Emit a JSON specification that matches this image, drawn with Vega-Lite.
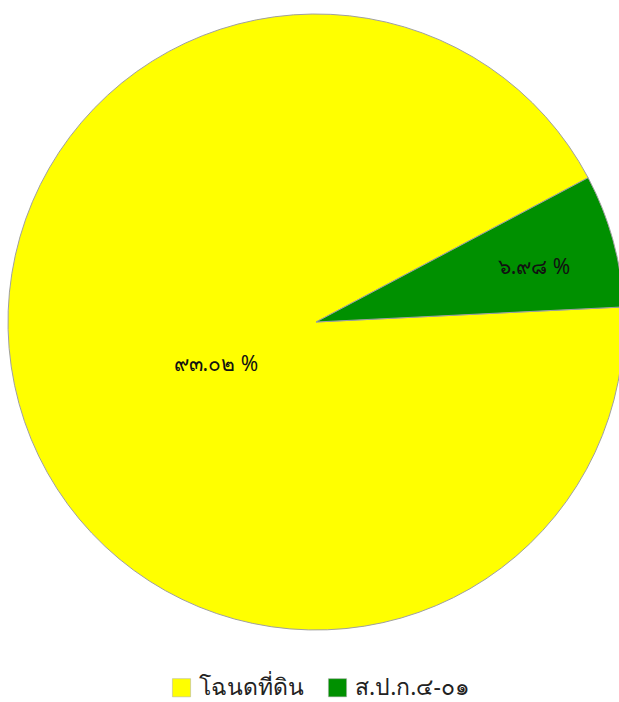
{
  "$schema": "https://vega.github.io/schema/vega-lite/v6.json",
  "width": 632,
  "height": 644,
  "autosize": {"type": "none"},
  "padding": {"left": 0, "top": 0, "right": -13, "bottom": 58},
  "background": "white",
  "config": {"view": {"stroke": null}, "font": "Noto Sans"},
  "data": {
    "values": [
      {"type": "โฉนดที่ดิน", "value": 93.02, "label": "๙๓.๐๒ %"},
      {"type": "ส.ป.ก.๔-๐๑", "value": 6.98, "label": "๖.๙๘ %"}
    ]
  },
  "transform": [
    {"stack": "value", "groupby": [], "sort": [{"field": "value", "order": "descending"}], "as": ["v0", "v1"]},
    {"calculate": "(datum.v0 + datum.v1) / 2", "as": "mid"}
  ],
  "layer": [
    {
      "mark": {"type": "arc", "outerRadius": 308, "stroke": "#a0a0a0", "strokeWidth": 1},
      "encoding": {
        "theta": {"field": "v0", "type": "quantitative", "scale": {"domain": [0, 100], "range": [1.522, 7.805]}},
        "theta2": {"field": "v1"},
        "color": {
          "field": "type",
          "type": "nominal",
          "sort": ["โฉนดที่ดิน", "ส.ป.ก.๔-๐๑"],
          "scale": {"domain": ["โฉนดที่ดิน", "ส.ป.ก.๔-๐๑"], "range": ["#ffff00", "#009000"]},
          "legend": {
            "title": null,
            "orient": "none",
            "legendX": 170,
            "legendY": 676,
            "direction": "horizontal",
            "symbolType": "square",
            "symbolSize": 330,
            "symbolStrokeColor": "#aaaaaa",
            "symbolStrokeWidth": 0.5,
            "labelFontSize": 23,
            "labelColor": "#222222",
            "labelFont": "Noto Sans",
            "columnPadding": 22,
            "labelOffset": 6
          }
        }
      }
    },
    {
      "transform": [{"filter": "datum.value > 50"}],
      "mark": {"type": "text", "radius": 108, "fontSize": 21, "color": "#111111", "baseline": "middle", "dy": 14, "dx": 4},
      "encoding": {
        "theta": {"field": "mid", "type": "quantitative"},
        "text": {"field": "label"}
      }
    },
    {
      "transform": [{"filter": "datum.value <= 50"}],
      "mark": {"type": "text", "radius": 226, "fontSize": 21, "color": "#111111", "baseline": "middle", "dy": 6},
      "encoding": {
        "theta": {"field": "mid", "type": "quantitative"},
        "text": {"field": "label"}
      }
    }
  ]
}
